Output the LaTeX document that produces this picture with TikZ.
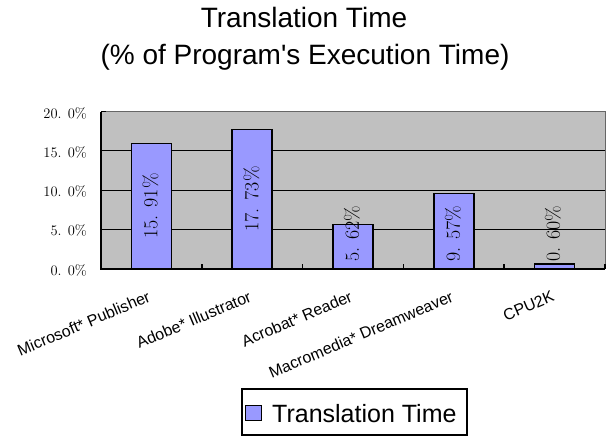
\documentclass[tikz,border=0pt]{standalone}
\usepackage{fontspec}
\newfontfamily\arialfont{Liberation Sans}
\usetikzlibrary{positioning}
\definecolor{plotgray}{RGB}{192,192,192}
\definecolor{barblue}{RGB}{153,153,255}
\tikzstyle{bar} = [draw, fill=barblue, line width=1.5pt]
\tikzstyle{gridline} = [draw, line width=1pt]
\tikzstyle{barlabel} = [rotate=90, inner sep=0pt, font=\fontsize{20}{20}\selectfont]
\tikzstyle{ylabel} = [anchor=east, inner sep=0pt, font=\fontsize{14.5}{14.5}\selectfont]
\tikzstyle{catlabel} = [anchor=north east, rotate=23, inner sep=0pt, font=\arialfont\fontsize{16}{16}\selectfont]
\tikzstyle{title} = [anchor=base, inner sep=0pt, font=\arialfont\fontsize{28}{28}\selectfont]

\begin{document}
\begin{tikzpicture}[x=1pt, y=-1pt]
\useasboundingbox [fill=white] (0,0) rectangle (608,436);
% title
\node [title] (title1) at (304,28) {Translation Time};
\node [title] (title2) at (305,65) {(\% of Program's Execution Time)};
% plot area
\draw [fill=plotgray, draw=black!60, line width=1pt] (101,111.5) rectangle (605,268.5);
\path [gridline] (101,150.75) -- (605,150.75);
\path [gridline] (101,190) -- (605,190);
\path [gridline] (101,229.25) -- (605,229.25);
% bars
\draw [bar] (131.4,268.5) rectangle (171.4,143.6);
\draw [bar] (232.2,268.5) rectangle (272.2,129.3);
\draw [bar] (333,268.5) rectangle (373,224.4);
\draw [bar] (433.8,268.5) rectangle (473.8,193.4);
\draw [bar] (534.6,268.5) rectangle (574.6,263.8);
% axes
\draw [line width=2pt] (101,111.5) -- (101,268.5) -- (605,268.5);
\draw [line width=1.5pt] (101,111.5) -- (106,111.5);
\draw [line width=1.5pt] (201.8,268.5) -- (201.8,264);
\draw [line width=1.5pt] (302.6,268.5) -- (302.6,264);
\draw [line width=1.5pt] (403.4,268.5) -- (403.4,264);
\draw [line width=1.5pt] (504.2,268.5) -- (504.2,264);
\draw [line width=1.5pt] (605,268.5) -- (605,264);
% value labels
\node [barlabel] (v1) at (150.5,206) {15. 91\%};
\node [barlabel] (v2) at (251.5,199) {17. 73\%};
\node [barlabel, anchor=west] (v3) at (352,262) {5. 62\%};
\node [barlabel, anchor=west] (v4) at (453,262) {9. 57\%};
\node [barlabel, anchor=west] (v5) at (553,262) {0. 60\%};
% y axis labels
\node [ylabel] (y20) at (87,113) {20. 0\%};
\node [ylabel] (y15) at (87,152.25) {15. 0\%};
\node [ylabel] (y10) at (87,191.5) {10. 0\%};
\node [ylabel] (y5) at (87,230.75) {5. 0\%};
\node [ylabel] (y0) at (87,270) {0. 0\%};
% category labels
\node [catlabel] (publisher) at (147,290) {Microsoft* Publisher};
\node [catlabel] (illustrator) at (248,290) {Adobe* Illustrator};
\node [catlabel] (reader) at (349,290) {Acrobat* Reader};
\node [catlabel] (dreamweaver) at (450,290) {Macromedia* Dreamweaver};
\node [catlabel] (cpu) at (551,290) {CPU2K};
% legend
\node [draw, line width=1.5pt, minimum width=225pt, minimum height=46pt, inner sep=0pt] (legend) at (354.5,412) {};
\draw [fill=barblue, line width=1pt] (245,405) rectangle (261,420);
\node [anchor=base west, inner sep=0pt, font=\arialfont\fontsize{25}{25}\selectfont] (legendtext) at (272,422) {Translation Time};
\end{tikzpicture}
\end{document}
